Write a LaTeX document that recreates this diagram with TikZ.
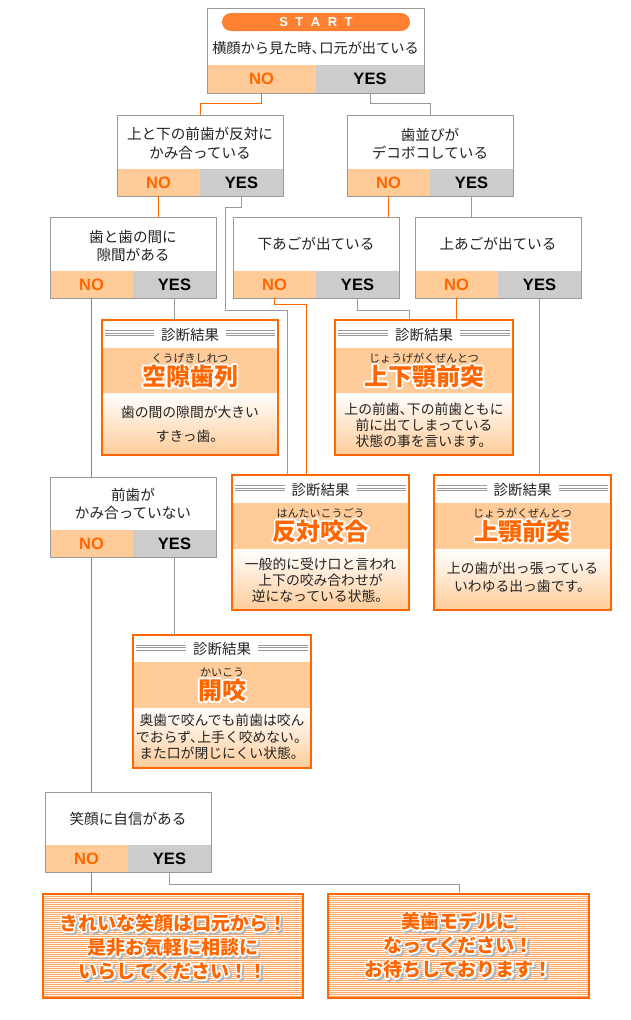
\documentclass[tikz,border=0pt]{standalone}
\usepackage{fontspec}
\setmainfont{Noto Sans CJK JP}
\newfontfamily\olfont{Noto Sans CJK JP}[BoldFeatures={FakeBold=16}]
\newfontfamily\latf{Liberation Sans}
\usetikzlibrary{calc}
\definecolor{org}{HTML}{FF6600}
\definecolor{pill}{HTML}{FF8030}
\definecolor{lorg}{HTML}{FFCC99}
\definecolor{gband}{HTML}{CCCCCC}
\definecolor{gline}{HTML}{999999}
\definecolor{txt}{HTML}{222222}
\definecolor{stripebg}{HTML}{FFA868}
\definecolor{stripec}{HTML}{FFF4EA}
\newcommand\tc{、\kern-6.5pt}
\tikzset{
  qframe/.style={draw=gline, line width=1pt, inner sep=0pt, outer sep=0pt},
  rframe/.style={draw=org, line width=1.2pt, inner sep=0pt, outer sep=0pt},
  fframe/.style={draw=org, line width=1.2pt, inner sep=0pt, outer sep=0pt},
  band/.style={inner sep=0pt, outer sep=0pt, font=\latf\bfseries\fontsize{16.5}{18}\selectfont},
  noband/.style={band, fill=lorg, text=org},
  yesband/.style={band, fill=gband, text=black},
  qtext/.style={font=\fontsize{14.6}{18.5}\selectfont, align=center, text=txt, inner sep=0pt},
  hdr/.style={font=\fontsize{14.5}{16}\selectfont, text=txt, inner sep=0pt},
  hrule/.style={draw=gline, line width=0.6pt},
  ruby/.style={font=\fontsize{11}{12}\selectfont, text=txt, inner sep=0pt},
  ttl/.style={font=\bfseries\fontsize{24}{26}\selectfont, inner sep=0pt},
  ttlo/.style={font=\olfont\bfseries\fontsize{24}{26}\selectfont, inner sep=0pt},
  desc/.style={align=center, text=txt, inner sep=0pt},
  fin/.style={font=\bfseries\fontsize{19}{24}\selectfont, align=center, inner sep=0pt},
  fino/.style={font=\olfont\bfseries\fontsize{19}{24}\selectfont, align=center, inner sep=0pt},
  noline/.style={draw=org, line width=1pt},
  yesline/.style={draw=gline, line width=1pt},
  stripeline/.style={draw=stripec, line width=0.9pt},
}
\newcommand\qbox[9]{%
  \fill[white] (#2,#3) rectangle (#4,#5);
  \node[noband, minimum width={#7-#2}, minimum height={#5-#6}, anchor=north west] (#1n) at (#2,#6) {NO};
  \node[yesband, minimum width={#4-#7}, minimum height={#5-#6}, anchor=north west] (#1y) at (#7,#6) {YES};
  \node[qframe, minimum width={#4-#2}, minimum height={#5-#3}, anchor=north west] (#1) at (#2,#3) {};
  \node[qtext] (#1t) at ({(#2+#4)/2},#8) {#9};
}
\newcommand\glow[3]{%
  \begin{scope}[line join=round]
  \node[ttlo, text=white] at (#1) {#2};
  \end{scope}
  \node[ttl, text=org] (#3) at (#1) {#2};
}
\newcommand\fglow[3]{%
  \begin{scope}[line join=round]
  \node[fino, text=black!28] at ($(#1)+(2,2)$) {#2};
  \end{scope}
  \begin{scope}[line join=round]
  \node[fino, text=white] at (#1) {#2};
  \end{scope}
  \node[fin, text=org] (#3) at (#1) {#2};
}
\newcommand\rbox[9]{%
  \fill[white] (#2,#3) rectangle (#4,#6);
  \fill[lorg] (#2,#6) rectangle (#4,#7);
  \shade[top color=white, bottom color=lorg] (#2,#7) rectangle (#4,#5);
  \node[hdr] (#1h) at ({(#2+#4)/2},{(#3+#6)/2+1}) {診断結果};
  \foreach \k in {-3.5,-1,1.5}{
    \draw[hrule] ({#2+3},{(#3+#6)/2+\k}) -- ({(#2+#4)/2-36},{(#3+#6)/2+\k});
    \draw[hrule] ({(#2+#4)/2+36},{(#3+#6)/2+\k}) -- ({#4-3},{(#3+#6)/2+\k});
  }
  \node[ruby] (#1r) at ({(#2+#4)/2},{#6+10}) {#8};
  \glow{{(#2+#4)/2},{#6+28}}{#9}{#1t}
  \node[rframe, minimum width={#4-#2}, minimum height={#5-#3}, anchor=north west] (#1) at (#2,#3) {};
}
\newcommand\finbox[5]{%
  \fill[stripebg] (#2,#3) rectangle (#4,#5);
  \foreach \k in {0,...,50}{\draw[stripeline] (#2,{#3+1.5+2*\k}) -- (#4,{#3+1.5+2*\k});}
  \node[fframe, minimum width={#4-#2}, minimum height={#5-#3}, anchor=north west] (#1) at (#2,#3) {};
}
\begin{document}
\begin{tikzpicture}[x=1pt,y=-1pt]
\useasboundingbox (0,0) rectangle (630,1020);
\fill[white] (0,0) rectangle (630,1020);

% question boxes
\qbox{q1}{207}{8}{424}{93}{65}{316}{48}{\fontsize{14.2}{18}\selectfont 横顔から見た時\tc 口元が出ている}
\node[fill=pill, rounded corners=9pt, minimum width=188, minimum height=18, inner sep=0pt, text=white, font=\latf\bfseries\fontsize{13}{14}\selectfont] (st) at (316,22) {S\hspace{7.5pt}T\hspace{7.5pt}A\hspace{7.5pt}R\hspace{7.5pt}T};
\qbox{q2}{117}{115}{283}{196}{169}{200}{143.5}{上と下の前歯が反対に\\かみ合っている}
\qbox{q3}{347}{115}{513}{196}{169}{430}{143.5}{歯並びが\\デコボコしている}
\qbox{q4}{50}{217}{216}{298}{271}{133}{246}{歯と歯の間に\\隙間がある}
\qbox{q5}{233}{217}{399}{298}{271}{316}{244}{下あごが出ている}
\qbox{q6}{415}{217}{581}{298}{271}{498}{244}{上あごが出ている}
\qbox{q7}{50}{477}{216}{557}{530}{133}{504}{前歯が\\かみ合っていない}
\qbox{q8}{45}{792}{211}{872}{845}{128}{819}{笑顔に自信がある}

% result boxes
\rbox{r1}{102}{320}{278}{455}{348}{393}{くうげきしれつ}{空隙歯列}
\node[desc, font=\fontsize{13.8}{24}\selectfont] (r1d) at (190,424) {歯の間の隙間が大きい\\すきっ歯。};
\rbox{r2}{335}{320}{513}{455}{348}{393}{じょうげがくぜんとつ}{上下顎前突}
\node[desc, font=\fontsize{13.8}{15.8}\selectfont] (r2d) at (424,425) {上の前歯\tc 下の前歯ともに\\前に出てしまっている\\状態の事を言います。};
\rbox{r3}{232}{475}{409}{610}{503}{549}{はんたいこうごう}{反対咬合}
\node[desc, font=\fontsize{13.8}{16}\selectfont] (r3d) at (320.5,580) {一般的に受け口と言われ\\上下の咬み合わせが\\逆になっている状態。};
\rbox{r4}{434}{475}{611}{610}{503}{549}{じょうがくぜんとつ}{上顎前突}
\node[desc, font=\fontsize{13.8}{18}\selectfont] (r4d) at (522.5,577) {上の歯が出っ張っている\\いわゆる出っ歯です。};
\rbox{r5}{133}{635}{311}{768}{662}{708}{かいこう}{開咬}
\node[desc, font=\fontsize{13.8}{16.5}\selectfont] (r5d) at (222,737) {奥歯で咬んでも前歯は咬ん\\でおらず\tc 上手く咬めない。\\また口が閉じにくい状態。};

% final boxes
\finbox{f1}{43}{894}{303}{998}
\finbox{f2}{328}{894}{589}{998}
\fglow{173,947}{きれいな笑顔は口元から！\\是非お気軽に相談に\\いらしてください！！}{f1t}
\fglow{458.5,945}{美歯モデルに\\なってください！\\お待ちしております！}{f2t}

% connectors
\draw[noline] (q1n.south) -- ++(0,10) -| (q2.north);
\draw[yesline] (q1y.south) -- ++(0,10) -| (q3.north);
\draw[noline] (q2n.south) -- (q2n.south |- q4.north);
\coordinate (k1) at (225,207);
\coordinate (k2) at (287,310);
\draw[yesline] (q2y.south) |- (k1) |- (k2) -- (k2 |- r3.north);
\draw[noline] (q3n.south) -- (q3n.south |- q5.north);
\draw[yesline] (q3y.south) -- (q3y.south |- q6.north);
\coordinate (k3) at (306,304);
\draw[noline] (q5n.south) |- (k3) -- (k3 |- r3.north);
\coordinate (k4) at (409,310);
\draw[yesline] (q5y.south) |- (k4) -- (k4 |- r2.north);
\draw[noline] (q6n.south) -- (q6n.south |- r2.north);
\draw[yesline] (q6y.south) -- (q6y.south |- r4.north);
\draw[noline] (q4n.south) -- (q4n.south |- q7.north);
\draw[yesline] (q4y.south) -- (q4y.south |- r1.north);
\draw[noline] (q7n.south) -- (q7n.south |- q8.north);
\draw[yesline] (q7y.south) -- (q7y.south |- r5.north);
\coordinate (k5) at ([xshift=5pt]q8n.south);
\draw[noline] (k5) -- (k5 |- f1.north);
\coordinate (k6) at (459,884);
\draw[yesline] (q8y.south) |- (k6) -- (k6 |- f2.north);
\end{tikzpicture}
\end{document}
